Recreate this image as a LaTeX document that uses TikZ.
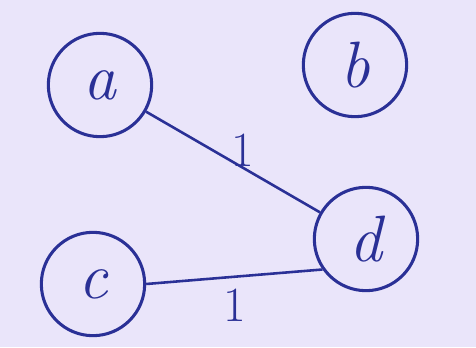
\documentclass[tikz,border=0pt]{standalone}
\definecolor{paper}{RGB}{234,229,250}
\definecolor{ink}{RGB}{42,48,150}
\usepackage{tikz}
\usetikzlibrary{positioning}

\begin{document}
\begin{tikzpicture}[
                vertex/.style={circle,
                draw=ink,
                line width=2.6pt,
                minimum size=3.1cm,
                text=ink,
                font=\fontsize{56}{56}\selectfont\itshape},
                edge/.style={ink, line width=2.2pt},
                wt/.style={text=ink, font=\fontsize{42}{42}\selectfont}]
                \fill[paper] (0,0) rectangle (14.28,10.41);
                \useasboundingbox (0,0) rectangle (14.28,10.41);
                \node[vertex] (a) at (3.0,7.86) {a};
                \node[vertex] (b) at (10.65,8.46) {b};
                \node[vertex] (c) at (2.79,1.89) {c};
                \node[vertex] (d) at (10.98,3.24) {d};
                \draw[edge] (a)--(d) node[wt, midway, above right=-8pt and -6pt] (w1) {1};
                \draw[edge] (c.east)--(d.-145) node[wt, midway, below=6pt] (w2) {1};
            \end{tikzpicture}
\end{document}
